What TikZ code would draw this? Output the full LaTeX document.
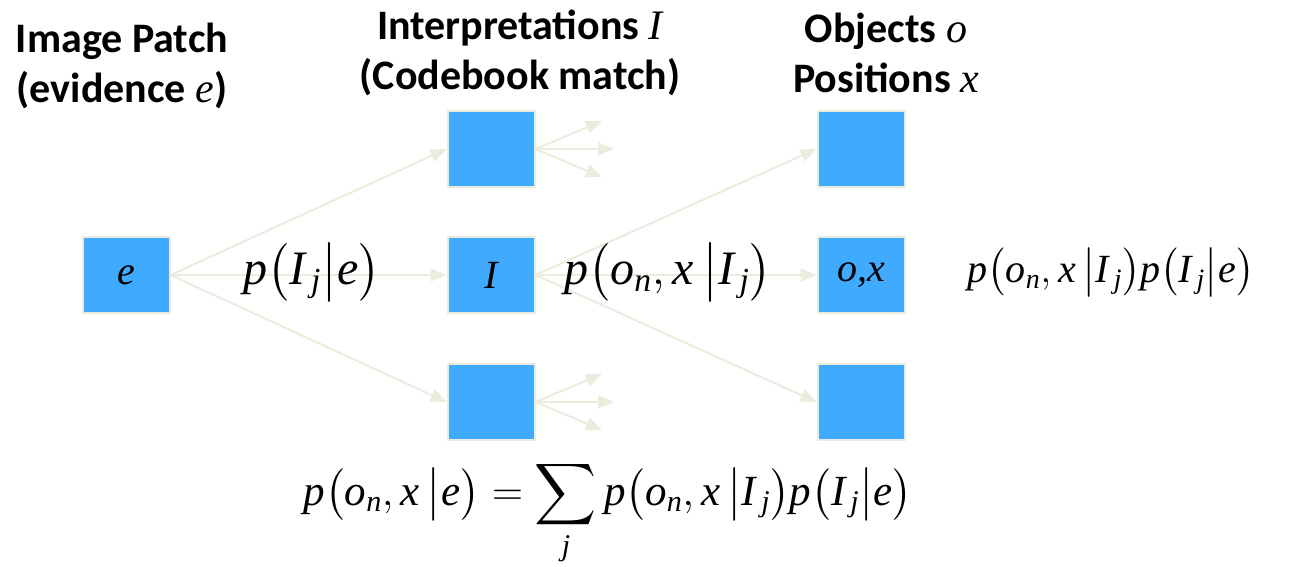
\documentclass[tikz,border=0pt]{standalone}
\usepackage{fix-cm}
\usepackage{amsmath}
\usepackage{fontspec}
\setmainfont{Liberation Serif}[ItalicFont={Liberation Serif Italic}]
\newfontfamily\headfont{Carlito}
\DeclareFontShape{OMX}{cmex}{m}{n}{<->cmex10}{}
\usetikzlibrary{arrows.meta,positioning}
\definecolor{boxblue}{RGB}{64,170,255}
\definecolor{flowbeige}{RGB}{236,236,222}
\tikzset{
  patchbox/.style={draw=flowbeige, line width=2pt, fill=boxblue,
    minimum width=87pt, minimum height=76pt, inner sep=0pt,
    font=\fontsize{40}{40}\selectfont},
  flow/.style={draw=flowbeige, line width=2pt,
    -{Triangle[length=16pt,width=13pt,fill=flowbeige]}},
  heading/.style={font=\headfont\bfseries\fontsize{42}{50}\selectfont, align=center},
  formula/.style={font=\fontsize{48}{48}\selectfont, inner sep=0pt}
}

\begin{document}
\begin{tikzpicture}[x=1pt,y=-1pt]
  \useasboundingbox (0,0) rectangle (1307,567);

  % 标题
  \node[heading] (hpatch) at (122,66) {Image Patch\\(evidence {\mdseries\rmfamily\itshape e})};
  \node[heading] (hinterp) at (520,53) {Interpretations {\mdseries\rmfamily\itshape I}\\(Codebook match)};
  \node[heading] (hobj) at (886,53) {Objects {\mdseries\rmfamily\itshape o}\\Positions {\mdseries\rmfamily\itshape x}};

  % 方块
  \node[patchbox] (patch) at (126,275) {\itshape e};
  \node[patchbox] (itop) at (491,149) {};
  \node[patchbox] (imid) at (491,275) {\itshape I};
  \node[patchbox] (ibot) at (491,402) {};
  \node[patchbox] (otop) at (861,149) {};
  \node[patchbox] (omid) at (861,275) {\itshape o,x};
  \node[patchbox] (obot) at (861,402) {};

  % 箭头
  \foreach \t in {itop,imid,ibot}
    \draw[flow] (patch.east) -- (\t.west);
  \foreach \t in {otop,omid,obot}
    \draw[flow] (imid.east) -- (\t.west);

  % 分支箭头
  \coordinate (ta1) at (602,121);
  \coordinate (ta2) at (614,149);
  \coordinate (ta3) at (602,177);
  \coordinate (ba1) at (602,374);
  \coordinate (ba2) at (614,402);
  \coordinate (ba3) at (602,430);
  \foreach \c in {ta1,ta2,ta3}
    \draw[flow] (itop.east) -- (\c);
  \foreach \c in {ba1,ba2,ba3}
    \draw[flow] (ibot.east) -- (\c);

  % 公式
  \node[formula] (pie) at (312,272) {$\mathit{p\bigl(I_{\,j}\big|e\bigr)}$};
  \node[formula] (poi) at (668,272) {$\mathit{p\bigl(o_n, x\,\big|I_{\,j}\bigr)}$};
  \node[formula, font=\fontsize{40}{40}\selectfont] (prod) at (1111,272)
    {$\mathit{p\bigl(o_n, x\,\big|I_{\,j}\bigr)p\bigl(I_{\,j}\big|e\bigr)}$};
  \node[formula, font=\fontsize{43}{43}\selectfont, anchor=base] (total) at (608,505)
    {$\mathit{p\bigl(o_n, x\,\big|e\bigr) = \displaystyle\sum_j p\bigl(o_n, x\,\big|I_{\,j}\bigr)p\bigl(I_{\,j}\big|e\bigr)}$};
\end{tikzpicture}
\end{document}
